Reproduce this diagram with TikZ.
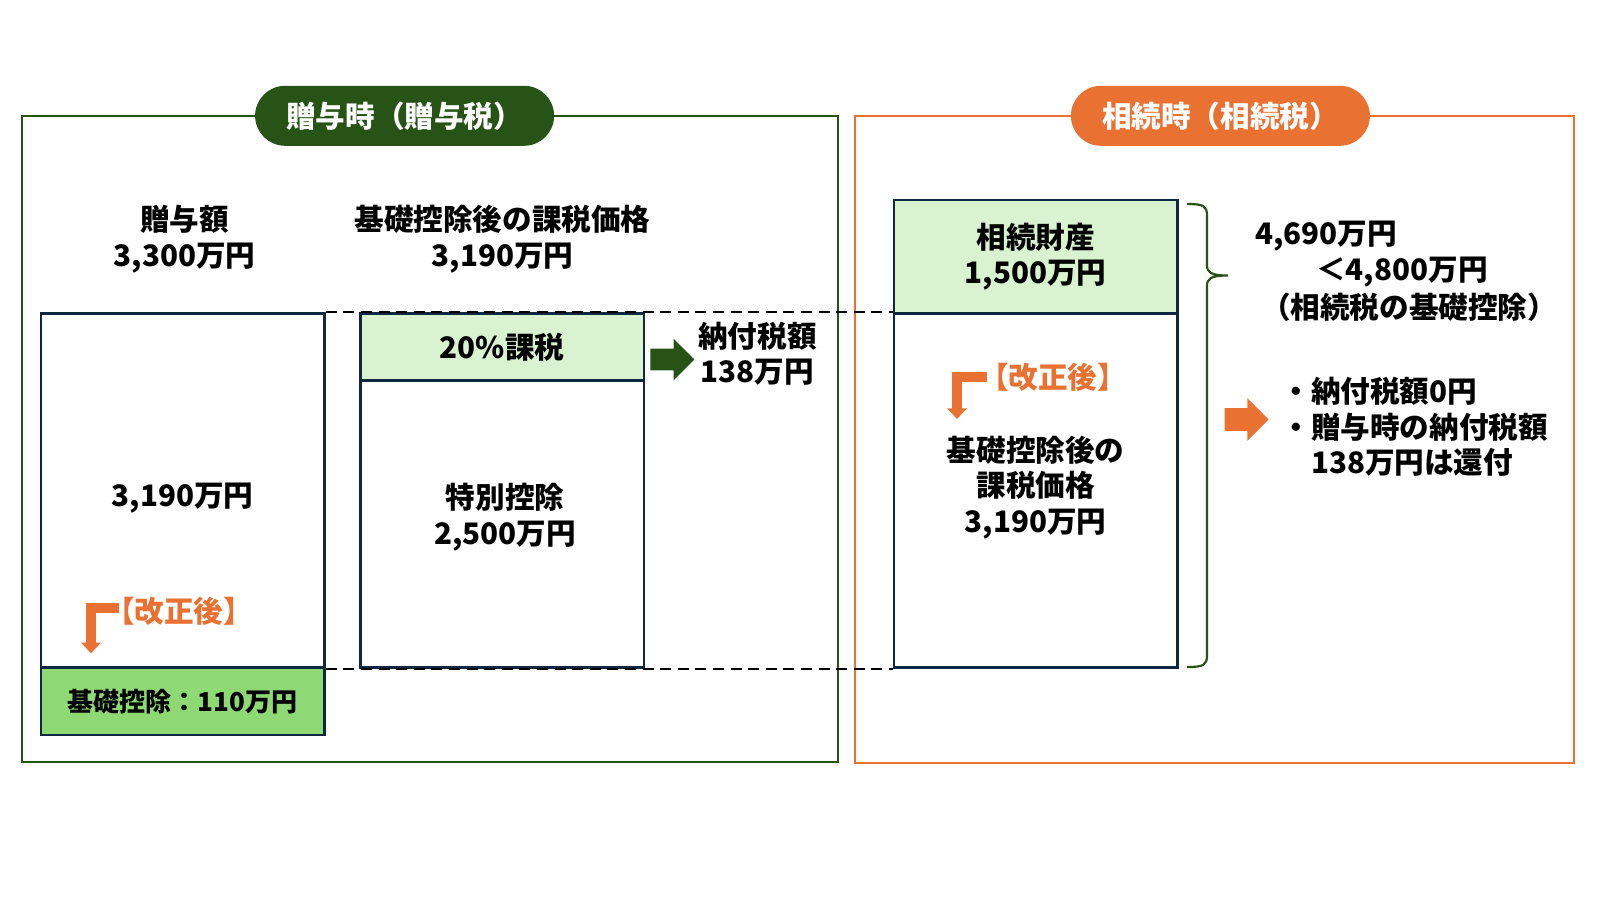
\documentclass[tikz,border=0pt]{standalone}
\usepackage{fontspec}
\setmainfont{Noto Sans CJK JP}
\usetikzlibrary{shapes.arrows,arrows.meta}
\definecolor{dgreen}{HTML}{275317}
\definecolor{lgreen}{HTML}{D9F2D0}
\definecolor{mgreen}{HTML}{8ED973}
\definecolor{orng}{HTML}{E97132}
\definecolor{navy}{HTML}{0E2841}

\begin{document}
\begin{tikzpicture}[x=0.5pt,y=-0.5pt,
    every node/.style={font=\fontsize{14.8}{17.8}\selectfont\bfseries, align=center, inner sep=0},
    box/.style={draw=navy, line width=1.3pt, minimum width=141.8pt},
    pill/.style={rounded corners=15pt, minimum width=149.5pt, minimum height=30pt, text=white},
    blockarrow/.style={single arrow, minimum height=22pt, inner ysep=5.25pt, single arrow head extend=5pt},
    bent/.style={draw=orng, line width=4.6pt, -{Triangle[width=9.5pt,length=5.3pt]}},
    kaisei/.style={text=orng},
    dashline/.style={dash pattern=on 5.5pt off 3.3pt, line width=1pt}]
        \useasboundingbox (0,0) rectangle (1600,900);

        \draw[dgreen, line width=1pt] (22.4,116.3) rectangle (837.8,762.3);
        \draw[orng, line width=1pt] (855.3,116.3) rectangle (1573.5,763.3);
        \node[pill, fill=dgreen] (P) at (404.6,115.8) {贈与時（贈与税）};
        \node[pill, fill=orng] (Q) at (1220.4,115.8) {相続時（相続税）};

        \node (D) at (184.7,239) {贈与額\\3,300万円};
        \node (E) at (502.5,239) {基礎控除後の課税価格\\3,190万円};
        \node[box, minimum height=177pt] (A) at (182.65,490.3) {};
        \node (A1) at (182.65,498) {3,190万円};
        \node[box, fill=mgreen, minimum height=33.85pt, font=\fontsize{13}{16}\selectfont\bfseries] (AA) at (182.65,701.15) {基礎控除：110万円};
        \node[box, fill=lgreen, minimum height=33.65pt] (B) at (502.05,346.95) {20\%課税};
        \node[box, minimum height=143.35pt] (BB) at (502.05,523.95) {};
        \node (B1) at (505,517) {特別控除\\2,500万円};
        \node[blockarrow, fill=dgreen] (G) at (667,359.5) {};
        \node (F) at (757.5,353.6) {納付税額\\138万円};

        \node[box, fill=lgreen, minimum height=56.65pt] (C) at (1035.7,256.65) {相続財産\\1,500万円};
        \node[box, minimum height=177pt] (CC) at (1035.7,490.3) {};
        \node (C1) at (1035.7,487.5) {基礎控除後の\\課税価格\\3,190万円};

        \node[kaisei] (K1) at (179,611) {【改正後】};
        \node[kaisei] (K2) at (1053,377) {【改正後】};
        \coordinate (k1) at (119.3,608);
        \coordinate (k1e) at (91,653.3);
        \coordinate (k2) at (987,377);
        \coordinate (k2e) at (957,419);
            \draw[bent] (k1) -| (k1e);
            \draw[bent] (k2) -| (k2e);

        % brace
        \draw[dgreen, line width=1.1pt] (1187,204) .. controls (1204,204) and (1207,206) .. (1207,216) -- (1207,265) .. controls (1207,272) and (1210,275.5) .. (1228,275.5) .. controls (1210,275.5) and (1207,279) .. (1207,286) -- (1207,655) .. controls (1207,665) and (1204,667) .. (1187,667);

        \node (H1) at (1326,236) {4,690万円};
        \node (H2) at (1402,272) {＜4,800万円};
        \node (H3) at (1409,307) {（相続税の基礎控除）};
        \node[blockarrow, fill=orng, inner ysep=5.5pt] (R) at (1241,419.5) {};
        \node[anchor=west, align=left] (I) at (1281,427) {・納付税額0円\\・贈与時の納付税額\\\phantom{・}138万円は還付};

            \draw[dashline] (A.north east) -- (CC.north west);
            \draw[dashline] (A.south east) -- (CC.south west);
    \end{tikzpicture}
\end{document}
